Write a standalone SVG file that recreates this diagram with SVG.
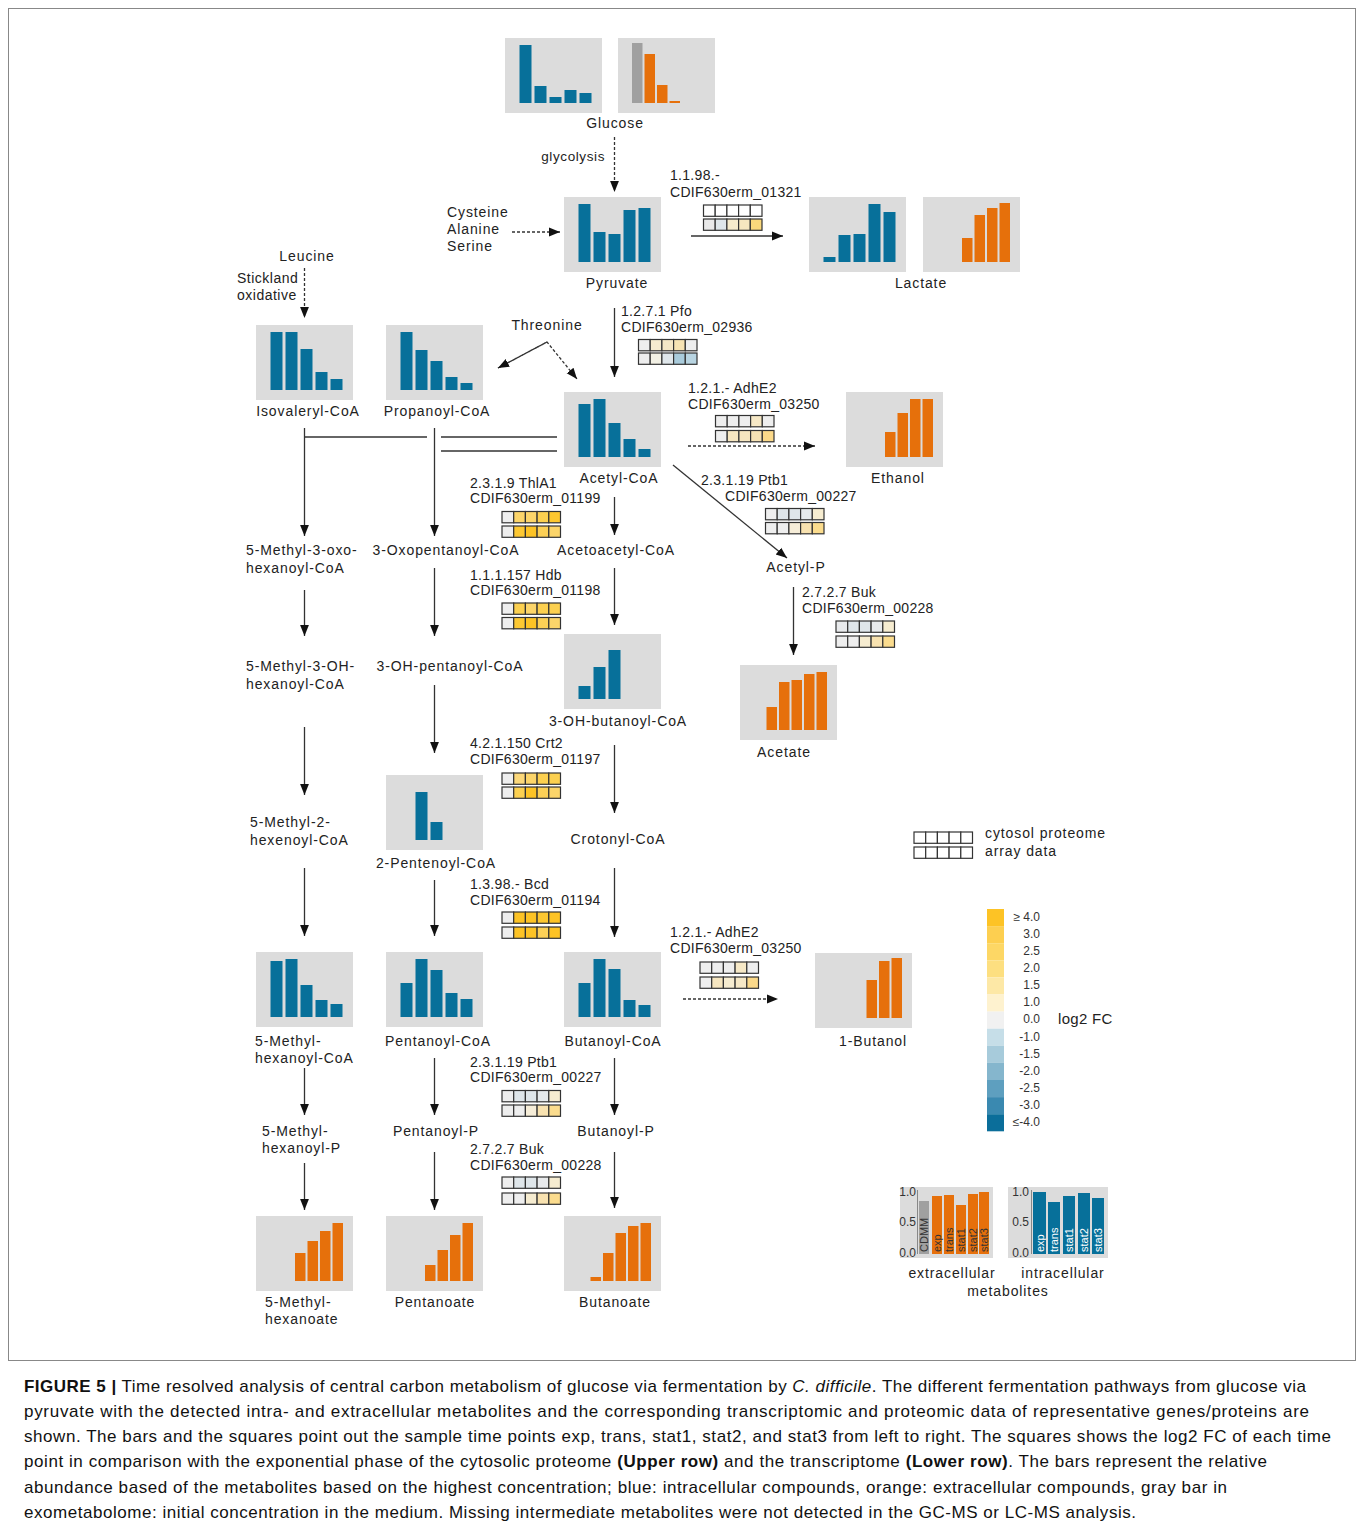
<svg xmlns="http://www.w3.org/2000/svg" width="1360" height="1527" viewBox="0 0 1360 1527">
<style>
.bx{fill:#dcdcdc}
.b{fill:#07709a}
.o{fill:#e6700b}
.g{fill:#a0a0a0}
.t{font-family:"Liberation Sans",Arial,sans-serif;font-size:14px;fill:#222;letter-spacing:0.9px}
g[id^="enz"] text{letter-spacing:0.3px}
.m{text-anchor:middle}
.e{text-anchor:end}
.s{font-family:"Liberation Sans",Arial,sans-serif;font-size:12px;fill:#333;text-anchor:end}
.rt{font-family:"Liberation Sans",Arial,sans-serif;font-size:11px;fill:#333}
.rw{font-family:"Liberation Sans",Arial,sans-serif;font-size:11px;fill:#fff}
.c{stroke:#333;stroke-width:1.3;fill:none}
.d{stroke-dasharray:3 2}
.sq rect{stroke:#333;stroke-width:1.2}
.cap{font-family:"Liberation Sans",Arial,sans-serif;font-size:17px;fill:#111}
</style>
<defs>
<marker id="ah2" viewBox="0 0 10 10" refX="10" refY="5" markerWidth="11" markerHeight="11" markerUnits="userSpaceOnUse" orient="auto"><path d="M0,1 L10,5 L0,9 z" fill="#111"/></marker>
</defs>
<rect x="0" y="0" width="1360" height="1527" fill="#fff"/>
<rect x="8.5" y="8.5" width="1347" height="1352" fill="none" stroke="#888" stroke-width="1"/>

<!-- Connectors -->
<g id="connectors">
<line class="c d" x1="614.5" y1="137" x2="614.5" y2="192" marker-end="url(#ah2)"/>
<line class="c d" x1="512" y1="232" x2="560" y2="232" marker-end="url(#ah2)"/>
<line class="c" x1="691" y1="236" x2="783" y2="236" marker-end="url(#ah2)"/>
<line class="c d" x1="304.5" y1="268" x2="304.5" y2="318" marker-end="url(#ah2)"/>
<polyline class="c d" points="498,368 547,342 577,379" marker-end="url(#ah2)"/>
<line class="c d" x1="547" y1="342" x2="498" y2="368" marker-end="url(#ah2)"/>
<line class="c" x1="614.5" y1="308" x2="614.5" y2="377" marker-end="url(#ah2)"/>
<line class="c d" x1="688" y1="446" x2="815" y2="446" marker-end="url(#ah2)"/>
<line class="c" x1="673" y1="465" x2="787" y2="558" marker-end="url(#ah2)"/>
<line class="c" x1="793.5" y1="587" x2="793.5" y2="655" marker-end="url(#ah2)"/>
<line class="c" x1="614.5" y1="497" x2="614.5" y2="535" marker-end="url(#ah2)"/>
<line class="c" x1="614.5" y1="568" x2="614.5" y2="625" marker-end="url(#ah2)"/>
<line class="c" x1="614.5" y1="745" x2="614.5" y2="813" marker-end="url(#ah2)"/>
<line class="c" x1="614.5" y1="868" x2="614.5" y2="937" marker-end="url(#ah2)"/>
<line class="c d" x1="683" y1="999" x2="778" y2="999" marker-end="url(#ah2)"/>
<line class="c" x1="614.5" y1="1058" x2="614.5" y2="1115" marker-end="url(#ah2)"/>
<line class="c" x1="614.5" y1="1152" x2="614.5" y2="1208" marker-end="url(#ah2)"/>
<polyline class="c" points="557,437 441,437"/>
<polyline class="c" points="557,451 441,451"/>
<polyline class="c" points="427,437 304.5,437"/>
<line class="c" x1="304.5" y1="428" x2="304.5" y2="536" marker-end="url(#ah2)"/>
<line class="c" x1="434.5" y1="428" x2="434.5" y2="536" marker-end="url(#ah2)"/>
<line class="c" x1="304.5" y1="590" x2="304.5" y2="636" marker-end="url(#ah2)"/>
<line class="c" x1="434.5" y1="568" x2="434.5" y2="636" marker-end="url(#ah2)"/>
<line class="c" x1="304.5" y1="727" x2="304.5" y2="795" marker-end="url(#ah2)"/>
<line class="c" x1="434.5" y1="685" x2="434.5" y2="753" marker-end="url(#ah2)"/>
<line class="c" x1="304.5" y1="868" x2="304.5" y2="936" marker-end="url(#ah2)"/>
<line class="c" x1="434.5" y1="880" x2="434.5" y2="936" marker-end="url(#ah2)"/>
<line class="c" x1="304.5" y1="1068" x2="304.5" y2="1115" marker-end="url(#ah2)"/>
<line class="c" x1="434.5" y1="1058" x2="434.5" y2="1115" marker-end="url(#ah2)"/>
<line class="c" x1="304.5" y1="1163" x2="304.5" y2="1210" marker-end="url(#ah2)"/>
<line class="c" x1="434.5" y1="1152" x2="434.5" y2="1210" marker-end="url(#ah2)"/>
</g>

<!-- Nodes -->
<g id="glucose">
<rect class="bx" x="505" y="38" width="97" height="75"/>
<rect class="b" x="519.5" y="45" width="12" height="58"/>
<rect class="b" x="534.5" y="86" width="12" height="17"/>
<rect class="b" x="549.5" y="97" width="12" height="6"/>
<rect class="b" x="564.5" y="90" width="12" height="13"/>
<rect class="b" x="579.5" y="93" width="12" height="10"/>
<rect class="bx" x="618" y="38" width="97" height="75"/>
<rect class="g" x="632" y="43" width="10.5" height="60"/>
<rect class="o" x="644.5" y="54" width="10.5" height="49"/>
<rect class="o" x="657" y="85" width="10.5" height="18"/>
<rect class="o" x="669.5" y="101" width="10.5" height="2"/>
<text class="t m" x="615" y="128">Glucose</text>
</g>
<g id="glycolysis-label"><text class="t e" x="605" y="161" style="font-size:13.5px;letter-spacing:0.6px">glycolysis</text></g>
<g id="aa-pyr"><text class="t" x="447" y="217">Cysteine</text><text class="t" x="447" y="234">Alanine</text><text class="t" x="447" y="251">Serine</text></g>

<g id="pyruvate">
<rect class="bx" x="564" y="197" width="97" height="75"/>
<rect class="b" x="578.5" y="204" width="12" height="58"/>
<rect class="b" x="593.5" y="232" width="12" height="30"/>
<rect class="b" x="608.5" y="234" width="12" height="28"/>
<rect class="b" x="623.5" y="210" width="12" height="52"/>
<rect class="b" x="638.5" y="208" width="12" height="54"/>
<text class="t m" x="617" y="288">Pyruvate</text>
</g>

<g id="enz-01321">
<text class="t" x="670" y="180">1.1.98.-</text>
<text class="t" x="670" y="197">CDIF630erm_01321</text>
<g class="sq">
<rect x="703.5" y="205" width="11.7" height="11.3" fill="#fff"/><rect x="715.2" y="205" width="11.7" height="11.3" fill="#fff"/><rect x="726.9" y="205" width="11.7" height="11.3" fill="#fff"/><rect x="738.6" y="205" width="11.7" height="11.3" fill="#fff"/><rect x="750.3" y="205" width="11.7" height="11.3" fill="#fff"/>
<rect x="703.5" y="219" width="11.7" height="11.3" fill="#e9e9e9"/><rect x="715.2" y="219" width="11.7" height="11.3" fill="#dfe6ea"/><rect x="726.9" y="219" width="11.7" height="11.3" fill="#f6ebcc"/><rect x="738.6" y="219" width="11.7" height="11.3" fill="#f6e6c0"/><rect x="750.3" y="219" width="11.7" height="11.3" fill="#fbd97c"/>
</g>
</g>

<g id="lactate">
<rect class="bx" x="809" y="197" width="97" height="75"/>
<rect class="b" x="823.5" y="257" width="12" height="5"/>
<rect class="b" x="838.5" y="235" width="12" height="27"/>
<rect class="b" x="853.5" y="234" width="12" height="28"/>
<rect class="b" x="868.5" y="204" width="12" height="58"/>
<rect class="b" x="883.5" y="212" width="12" height="50"/>
<rect class="bx" x="923" y="197" width="97" height="75"/>
<rect class="o" x="962" y="238" width="10.5" height="24"/>
<rect class="o" x="974.5" y="215" width="10.5" height="47"/>
<rect class="o" x="987" y="208" width="10.5" height="54"/>
<rect class="o" x="999.5" y="203" width="10.5" height="59"/>
<text class="t m" x="921" y="288">Lactate</text>
</g>

<g id="leucine"><text class="t m" x="307" y="261">Leucine</text><text class="t" x="237" y="283" style="letter-spacing:0.5px">Stickland</text><text class="t" x="237" y="300" style="letter-spacing:0.5px">oxidative</text></g>

<g id="isovaleryl-coa">
<rect class="bx" x="256" y="325" width="97" height="75"/>
<rect class="b" x="270.5" y="332" width="12" height="58"/>
<rect class="b" x="285.5" y="332" width="12" height="58"/>
<rect class="b" x="300.5" y="349" width="12" height="41"/>
<rect class="b" x="315.5" y="372" width="12" height="18"/>
<rect class="b" x="330.5" y="379" width="12" height="11"/>
<text class="t m" x="308" y="416">Isovaleryl-CoA</text>
</g>
<g id="propanoyl-coa">
<rect class="bx" x="386" y="325" width="97" height="75"/>
<rect class="b" x="400.5" y="332" width="12" height="58"/>
<rect class="b" x="415.5" y="350" width="12" height="40"/>
<rect class="b" x="430.5" y="361" width="12" height="29"/>
<rect class="b" x="445.5" y="377" width="12" height="13"/>
<rect class="b" x="460.5" y="383" width="12" height="7"/>
<text class="t m" x="437" y="416">Propanoyl-CoA</text>
</g>
<g id="threonine"><text class="t m" x="547" y="330">Threonine</text></g>

<g id="enz-02936">
<text class="t" x="621" y="316">1.2.7.1 Pfo</text>
<text class="t" x="621" y="332">CDIF630erm_02936</text>
<g class="sq">
<rect x="638.5" y="339.5" width="11.7" height="11.3" fill="#eeeeee"/><rect x="650.2" y="339.5" width="11.7" height="11.3" fill="#f6ebcf"/><rect x="661.9" y="339.5" width="11.7" height="11.3" fill="#f5e7c6"/><rect x="673.6" y="339.5" width="11.7" height="11.3" fill="#f7e3b3"/><rect x="685.3" y="339.5" width="11.7" height="11.3" fill="#eeeeee"/>
<rect x="638.5" y="353" width="11.7" height="11.3" fill="#eeeeee"/><rect x="650.2" y="353" width="11.7" height="11.3" fill="#f2f0e4"/><rect x="661.9" y="353" width="11.7" height="11.3" fill="#dfe6ea"/><rect x="673.6" y="353" width="11.7" height="11.3" fill="#a9cbdb"/><rect x="685.3" y="353" width="11.7" height="11.3" fill="#b8d4e1"/>
</g>
</g>

<g id="acetyl-coa">
<rect class="bx" x="564" y="392" width="97" height="75"/>
<rect class="b" x="578.5" y="404" width="12" height="53"/>
<rect class="b" x="593.5" y="399" width="12" height="58"/>
<rect class="b" x="608.5" y="423" width="12" height="34"/>
<rect class="b" x="623.5" y="439" width="12" height="18"/>
<rect class="b" x="638.5" y="449" width="12" height="8"/>
<text class="t m" x="619" y="483">Acetyl-CoA</text>
</g>

<g id="enz-03250a">
<text class="t" x="688" y="393">1.2.1.- AdhE2</text>
<text class="t" x="688" y="409">CDIF630erm_03250</text>
<g class="sq">
<rect x="715.5" y="415.5" width="11.7" height="11.3" fill="#eeeeee"/><rect x="727.2" y="415.5" width="11.7" height="11.3" fill="#eeeeee"/><rect x="738.9" y="415.5" width="11.7" height="11.3" fill="#eeeeee"/><rect x="750.6" y="415.5" width="11.7" height="11.3" fill="#f6e8c6"/><rect x="762.3" y="415.5" width="11.7" height="11.3" fill="#eeeeee"/>
<rect x="715.5" y="430.5" width="11.7" height="11.3" fill="#eeeeee"/><rect x="727.2" y="430.5" width="11.7" height="11.3" fill="#f6e6c0"/><rect x="738.9" y="430.5" width="11.7" height="11.3" fill="#f6e6c0"/><rect x="750.6" y="430.5" width="11.7" height="11.3" fill="#f6e2b4"/><rect x="762.3" y="430.5" width="11.7" height="11.3" fill="#fbd98a"/>
</g>
</g>

<g id="ethanol">
<rect class="bx" x="846" y="392" width="97" height="75"/>
<rect class="o" x="885" y="432" width="10.5" height="25"/>
<rect class="o" x="897.5" y="413" width="10.5" height="44"/>
<rect class="o" x="910" y="399" width="10.5" height="58"/>
<rect class="o" x="922.5" y="399" width="10.5" height="58"/>
<text class="t m" x="898" y="483">Ethanol</text>
</g>

<g id="enz-00227a">
<text class="t" x="701" y="485">2.3.1.19 Ptb1</text>
<text class="t" x="725" y="501">CDIF630erm_00227</text>
<g class="sq">
<rect x="765.5" y="508.5" width="11.7" height="11.3" fill="#eeeeee"/><rect x="777.2" y="508.5" width="11.7" height="11.3" fill="#dfe6ea"/><rect x="788.9" y="508.5" width="11.7" height="11.3" fill="#dfe6ea"/><rect x="800.6" y="508.5" width="11.7" height="11.3" fill="#e5e9eb"/><rect x="812.3" y="508.5" width="11.7" height="11.3" fill="#f6ecd0"/>
<rect x="765.5" y="522.5" width="11.7" height="11.3" fill="#eeeeee"/><rect x="777.2" y="522.5" width="11.7" height="11.3" fill="#eeeeee"/><rect x="788.9" y="522.5" width="11.7" height="11.3" fill="#f6edd8"/><rect x="800.6" y="522.5" width="11.7" height="11.3" fill="#f8e2b0"/><rect x="812.3" y="522.5" width="11.7" height="11.3" fill="#fbdc8e"/>
</g>
</g>

<g id="acetyl-p"><text class="t m" x="796" y="572">Acetyl-P</text></g>

<g id="enz-00228a">
<text class="t" x="802" y="597">2.7.2.7 Buk</text>
<text class="t" x="802" y="613">CDIF630erm_00228</text>
<g class="sq">
<rect x="836" y="621" width="11.7" height="11.3" fill="#e8eaec"/><rect x="847.7" y="621" width="11.7" height="11.3" fill="#dfe6ea"/><rect x="859.4" y="621" width="11.7" height="11.3" fill="#dfe6ea"/><rect x="871.1" y="621" width="11.7" height="11.3" fill="#e8eaec"/><rect x="882.8" y="621" width="11.7" height="11.3" fill="#f6ecd0"/>
<rect x="836" y="636" width="11.7" height="11.3" fill="#eeeeee"/><rect x="847.7" y="636" width="11.7" height="11.3" fill="#eeeeee"/><rect x="859.4" y="636" width="11.7" height="11.3" fill="#f6ecd0"/><rect x="871.1" y="636" width="11.7" height="11.3" fill="#f8e2b0"/><rect x="882.8" y="636" width="11.7" height="11.3" fill="#fbdc8e"/>
</g>
</g>

<g id="acetate">
<rect class="bx" x="740" y="665" width="97" height="75"/>
<rect class="o" x="766.5" y="707" width="10.5" height="23"/>
<rect class="o" x="779" y="682" width="10.5" height="48"/>
<rect class="o" x="791.5" y="680" width="10.5" height="50"/>
<rect class="o" x="804" y="674" width="10.5" height="56"/>
<rect class="o" x="816.5" y="672" width="10.5" height="58"/>
<text class="t m" x="784" y="757">Acetate</text>
</g>

<g id="enz-01199">
<text class="t" x="470" y="488">2.3.1.9 ThlA1</text>
<text class="t" x="470" y="503">CDIF630erm_01199</text>
<g class="sq">
<rect x="502" y="511.5" width="11.7" height="11.3" fill="#eeeeee"/><rect x="513.7" y="511.5" width="11.7" height="11.3" fill="#fcd56a"/><rect x="525.4" y="511.5" width="11.7" height="11.3" fill="#fcd56a"/><rect x="537.1" y="511.5" width="11.7" height="11.3" fill="#fcd050"/><rect x="548.8" y="511.5" width="11.7" height="11.3" fill="#fdc730"/>
<rect x="502" y="526" width="11.7" height="11.3" fill="#eeeeee"/><rect x="513.7" y="526" width="11.7" height="11.3" fill="#fdc832"/><rect x="525.4" y="526" width="11.7" height="11.3" fill="#fdc325"/><rect x="537.1" y="526" width="11.7" height="11.3" fill="#fcd056"/><rect x="548.8" y="526" width="11.7" height="11.3" fill="#fcd56a"/>
</g>
</g>

<g id="m3oxo"><text class="t" x="246" y="555">5-Methyl-3-oxo-</text><text class="t" x="246" y="573">hexanoyl-CoA</text></g>
<g id="oxopentanoyl"><text class="t m" x="446" y="555">3-Oxopentanoyl-CoA</text></g>
<g id="acetoacetyl"><text class="t m" x="616" y="555">Acetoacetyl-CoA</text></g>

<g id="enz-01198">
<text class="t" x="470" y="580">1.1.1.157 Hdb</text>
<text class="t" x="470" y="595">CDIF630erm_01198</text>
<g class="sq">
<rect x="502" y="603" width="11.7" height="11.3" fill="#eeeeee"/><rect x="513.7" y="603" width="11.7" height="11.3" fill="#fcd050"/><rect x="525.4" y="603" width="11.7" height="11.3" fill="#fcd56a"/><rect x="537.1" y="603" width="11.7" height="11.3" fill="#fcd050"/><rect x="548.8" y="603" width="11.7" height="11.3" fill="#fcd050"/>
<rect x="502" y="617.5" width="11.7" height="11.3" fill="#eeeeee"/><rect x="513.7" y="617.5" width="11.7" height="11.3" fill="#fdc832"/><rect x="525.4" y="617.5" width="11.7" height="11.3" fill="#fdc325"/><rect x="537.1" y="617.5" width="11.7" height="11.3" fill="#fcd056"/><rect x="548.8" y="617.5" width="11.7" height="11.3" fill="#fcd56a"/>
</g>
</g>

<g id="m3oh"><text class="t" x="246" y="671">5-Methyl-3-OH-</text><text class="t" x="246" y="689">hexanoyl-CoA</text></g>
<g id="ohpentanoyl"><text class="t m" x="450" y="671">3-OH-pentanoyl-CoA</text></g>

<g id="ohbutanoyl">
<rect class="bx" x="564" y="634" width="97" height="75"/>
<rect class="b" x="578.5" y="686" width="12" height="13"/>
<rect class="b" x="593.5" y="667" width="12" height="32"/>
<rect class="b" x="608.5" y="650" width="12" height="49"/>
<text class="t m" x="618" y="726">3-OH-butanoyl-CoA</text>
</g>

<g id="enz-01197">
<text class="t" x="470" y="748">4.2.1.150 Crt2</text>
<text class="t" x="470" y="764">CDIF630erm_01197</text>
<g class="sq">
<rect x="502" y="773" width="11.7" height="11.3" fill="#eeeeee"/><rect x="513.7" y="773" width="11.7" height="11.3" fill="#fcd87a"/><rect x="525.4" y="773" width="11.7" height="11.3" fill="#fcd56a"/><rect x="537.1" y="773" width="11.7" height="11.3" fill="#fcd050"/><rect x="548.8" y="773" width="11.7" height="11.3" fill="#fcd050"/>
<rect x="502" y="787" width="11.7" height="11.3" fill="#eeeeee"/><rect x="513.7" y="787" width="11.7" height="11.3" fill="#fcd050"/><rect x="525.4" y="787" width="11.7" height="11.3" fill="#fdc325"/><rect x="537.1" y="787" width="11.7" height="11.3" fill="#fcd056"/><rect x="548.8" y="787" width="11.7" height="11.3" fill="#fcd56a"/>
</g>
</g>

<g id="m2hexenoyl"><text class="t" x="250" y="827">5-Methyl-2-</text><text class="t" x="250" y="845">hexenoyl-CoA</text></g>

<g id="pentenoyl">
<rect class="bx" x="386" y="775" width="97" height="75"/>
<rect class="b" x="415.5" y="792" width="12" height="48"/>
<rect class="b" x="430.5" y="822" width="12" height="18"/>
<text class="t m" x="436" y="868">2-Pentenoyl-CoA</text>
</g>

<g id="crotonyl"><text class="t m" x="618" y="844">Crotonyl-CoA</text></g>

<g id="enz-01194">
<text class="t" x="470" y="889">1.3.98.- Bcd</text>
<text class="t" x="470" y="905">CDIF630erm_01194</text>
<g class="sq">
<rect x="502" y="912" width="11.7" height="11.3" fill="#eeeeee"/><rect x="513.7" y="912" width="11.7" height="11.3" fill="#fdc325"/><rect x="525.4" y="912" width="11.7" height="11.3" fill="#fdc325"/><rect x="537.1" y="912" width="11.7" height="11.3" fill="#fdc730"/><rect x="548.8" y="912" width="11.7" height="11.3" fill="#fdc325"/>
<rect x="502" y="927" width="11.7" height="11.3" fill="#eeeeee"/><rect x="513.7" y="927" width="11.7" height="11.3" fill="#fdc325"/><rect x="525.4" y="927" width="11.7" height="11.3" fill="#fdc325"/><rect x="537.1" y="927" width="11.7" height="11.3" fill="#fcd056"/><rect x="548.8" y="927" width="11.7" height="11.3" fill="#fdc325"/>
</g>
</g>

<g id="enz-03250b">
<text class="t" x="670" y="937">1.2.1.- AdhE2</text>
<text class="t" x="670" y="953">CDIF630erm_03250</text>
<g class="sq">
<rect x="700" y="962" width="11.7" height="11.3" fill="#eeeeee"/><rect x="711.7" y="962" width="11.7" height="11.3" fill="#eeeeee"/><rect x="723.4" y="962" width="11.7" height="11.3" fill="#eeeeee"/><rect x="735.1" y="962" width="11.7" height="11.3" fill="#f6e8c6"/><rect x="746.8" y="962" width="11.7" height="11.3" fill="#eeeeee"/>
<rect x="700" y="977" width="11.7" height="11.3" fill="#eeeeee"/><rect x="711.7" y="977" width="11.7" height="11.3" fill="#f6e6c0"/><rect x="723.4" y="977" width="11.7" height="11.3" fill="#f6ecd0"/><rect x="735.1" y="977" width="11.7" height="11.3" fill="#f6e8c6"/><rect x="746.8" y="977" width="11.7" height="11.3" fill="#fbd98a"/>
</g>
</g>

<g id="mhexanoyl-coa">
<rect class="bx" x="256" y="952" width="97" height="75"/>
<rect class="b" x="270.5" y="961" width="12" height="56"/>
<rect class="b" x="285.5" y="959" width="12" height="58"/>
<rect class="b" x="300.5" y="985" width="12" height="32"/>
<rect class="b" x="315.5" y="1000" width="12" height="17"/>
<rect class="b" x="330.5" y="1004" width="12" height="13"/>
<text class="t" x="255" y="1046">5-Methyl-</text><text class="t" x="255" y="1063">hexanoyl-CoA</text>
</g>
<g id="pentanoyl-coa">
<rect class="bx" x="386" y="952" width="97" height="75"/>
<rect class="b" x="400.5" y="983" width="12" height="34"/>
<rect class="b" x="415.5" y="959" width="12" height="58"/>
<rect class="b" x="430.5" y="970" width="12" height="47"/>
<rect class="b" x="445.5" y="993" width="12" height="24"/>
<rect class="b" x="460.5" y="999" width="12" height="18"/>
<text class="t m" x="438" y="1046">Pentanoyl-CoA</text>
</g>
<g id="butanoyl-coa">
<rect class="bx" x="564" y="952" width="97" height="75"/>
<rect class="b" x="578.5" y="983" width="12" height="34"/>
<rect class="b" x="593.5" y="959" width="12" height="58"/>
<rect class="b" x="608.5" y="969" width="12" height="48"/>
<rect class="b" x="623.5" y="1000" width="12" height="17"/>
<rect class="b" x="638.5" y="1005" width="12" height="12"/>
<text class="t m" x="613" y="1046">Butanoyl-CoA</text>
</g>
<g id="butanol">
<rect class="bx" x="815" y="953" width="97" height="75"/>
<rect class="o" x="866.5" y="980" width="10.5" height="38"/>
<rect class="o" x="879" y="961" width="10.5" height="57"/>
<rect class="o" x="891.5" y="958" width="10.5" height="60"/>
<text class="t m" x="873" y="1046">1-Butanol</text>
</g>

<g id="enz-00227b">
<text class="t" x="470" y="1067">2.3.1.19 Ptb1</text>
<text class="t" x="470" y="1082">CDIF630erm_00227</text>
<g class="sq">
<rect x="502" y="1090.5" width="11.7" height="11.3" fill="#eeeeee"/><rect x="513.7" y="1090.5" width="11.7" height="11.3" fill="#dfe6ea"/><rect x="525.4" y="1090.5" width="11.7" height="11.3" fill="#dfe6ea"/><rect x="537.1" y="1090.5" width="11.7" height="11.3" fill="#e5e9eb"/><rect x="548.8" y="1090.5" width="11.7" height="11.3" fill="#f6ecd0"/>
<rect x="502" y="1105" width="11.7" height="11.3" fill="#eeeeee"/><rect x="513.7" y="1105" width="11.7" height="11.3" fill="#eeeeee"/><rect x="525.4" y="1105" width="11.7" height="11.3" fill="#f6edd8"/><rect x="537.1" y="1105" width="11.7" height="11.3" fill="#f8e2b0"/><rect x="548.8" y="1105" width="11.7" height="11.3" fill="#fbdc8e"/>
</g>
</g>

<g id="mhexanoyl-p"><text class="t" x="262" y="1136">5-Methyl-</text><text class="t" x="262" y="1153">hexanoyl-P</text></g>
<g id="pentanoyl-p"><text class="t m" x="436" y="1136">Pentanoyl-P</text></g>
<g id="butanoyl-p"><text class="t m" x="616" y="1136">Butanoyl-P</text></g>

<g id="enz-00228b">
<text class="t" x="470" y="1154">2.7.2.7 Buk</text>
<text class="t" x="470" y="1170">CDIF630erm_00228</text>
<g class="sq">
<rect x="502" y="1177" width="11.7" height="11.3" fill="#eeeeee"/><rect x="513.7" y="1177" width="11.7" height="11.3" fill="#dfe6ea"/><rect x="525.4" y="1177" width="11.7" height="11.3" fill="#dfe6ea"/><rect x="537.1" y="1177" width="11.7" height="11.3" fill="#e8eaec"/><rect x="548.8" y="1177" width="11.7" height="11.3" fill="#f6ecd0"/>
<rect x="502" y="1193" width="11.7" height="11.3" fill="#eeeeee"/><rect x="513.7" y="1193" width="11.7" height="11.3" fill="#eeeeee"/><rect x="525.4" y="1193" width="11.7" height="11.3" fill="#f6ecd0"/><rect x="537.1" y="1193" width="11.7" height="11.3" fill="#f8e2b0"/><rect x="548.8" y="1193" width="11.7" height="11.3" fill="#fbdc8e"/>
</g>
</g>

<g id="mhexanoate">
<rect class="bx" x="256" y="1216" width="97" height="75"/>
<rect class="o" x="295" y="1253" width="10.5" height="28"/>
<rect class="o" x="307.5" y="1241" width="10.5" height="40"/>
<rect class="o" x="320" y="1231" width="10.5" height="50"/>
<rect class="o" x="332.5" y="1223" width="10.5" height="58"/>
<text class="t" x="265" y="1307">5-Methyl-</text><text class="t" x="265" y="1324">hexanoate</text>
</g>
<g id="pentanoate">
<rect class="bx" x="386" y="1216" width="97" height="75"/>
<rect class="o" x="425" y="1265" width="10.5" height="16"/>
<rect class="o" x="437.5" y="1250" width="10.5" height="31"/>
<rect class="o" x="450" y="1235" width="10.5" height="46"/>
<rect class="o" x="462.5" y="1223" width="10.5" height="58"/>
<text class="t m" x="435" y="1307">Pentanoate</text>
</g>
<g id="butanoate">
<rect class="bx" x="564" y="1216" width="97" height="75"/>
<rect class="o" x="590.5" y="1277" width="10.5" height="4"/>
<rect class="o" x="603" y="1253" width="10.5" height="28"/>
<rect class="o" x="615.5" y="1233" width="10.5" height="48"/>
<rect class="o" x="628" y="1226" width="10.5" height="55"/>
<rect class="o" x="640.5" y="1223" width="10.5" height="58"/>
<text class="t m" x="615" y="1307">Butanoate</text>
</g>

<!-- Legend -->
<g id="legend-squares">
<g class="sq">
<rect x="914" y="832" width="11.7" height="11.3" fill="#fff"/><rect x="925.7" y="832" width="11.7" height="11.3" fill="#fff"/><rect x="937.4" y="832" width="11.7" height="11.3" fill="#fff"/><rect x="949.1" y="832" width="11.7" height="11.3" fill="#fff"/><rect x="960.8" y="832" width="11.7" height="11.3" fill="#fff"/>
<rect x="914" y="847" width="11.7" height="11.3" fill="#fff"/><rect x="925.7" y="847" width="11.7" height="11.3" fill="#fff"/><rect x="937.4" y="847" width="11.7" height="11.3" fill="#fff"/><rect x="949.1" y="847" width="11.7" height="11.3" fill="#fff"/><rect x="960.8" y="847" width="11.7" height="11.3" fill="#fff"/>
</g>
<text class="t" x="985" y="838">cytosol proteome</text>
<text class="t" x="985" y="856">array data</text>
</g>

<g id="legend-scale">
<rect x="987" y="909" width="17" height="17.1" fill="#fdc325"/>
<rect x="987" y="926.1" width="17" height="17.1" fill="#fdcf50"/>
<rect x="987" y="943.2" width="17" height="17.1" fill="#fdd765"/>
<rect x="987" y="960.3" width="17" height="17.1" fill="#fddf80"/>
<rect x="987" y="977.4" width="17" height="17.1" fill="#fde8a6"/>
<rect x="987" y="994.5" width="17" height="17.1" fill="#fef2cf"/>
<rect x="987" y="1011.6" width="17" height="17.1" fill="#f1f1f1"/>
<rect x="987" y="1028.7" width="17" height="17.1" fill="#c6dee8"/>
<rect x="987" y="1045.8" width="17" height="17.1" fill="#a7cbdb"/>
<rect x="987" y="1062.9" width="17" height="17.1" fill="#85b6cd"/>
<rect x="987" y="1080" width="17" height="17.1" fill="#5e9fbf"/>
<rect x="987" y="1097.1" width="17" height="17.1" fill="#3a89b0"/>
<rect x="987" y="1114.2" width="17" height="17.1" fill="#0b6e9a"/>
<text class="s" x="1040" y="921">≥ 4.0</text>
<text class="s" x="1040" y="938">3.0</text>
<text class="s" x="1040" y="955">2.5</text>
<text class="s" x="1040" y="972">2.0</text>
<text class="s" x="1040" y="989">1.5</text>
<text class="s" x="1040" y="1006">1.0</text>
<text class="s" x="1040" y="1023">0.0</text>
<text class="s" x="1040" y="1041">-1.0</text>
<text class="s" x="1040" y="1058">-1.5</text>
<text class="s" x="1040" y="1075">-2.0</text>
<text class="s" x="1040" y="1092">-2.5</text>
<text class="s" x="1040" y="1109">-3.0</text>
<text class="s" x="1040" y="1126">≤-4.0</text>
<text class="t" x="1058" y="1024" style="font-size:15px;letter-spacing:0.3px">log2 FC</text>
</g>

<g id="legend-extracellular">
<rect class="bx" x="900" y="1187" width="93" height="71"/>
<line x1="917.5" y1="1190" x2="917.5" y2="1254" stroke="#888" stroke-width="1"/>
<rect class="g" x="919" y="1201" width="10" height="53"/>
<rect class="o" x="932" y="1196" width="10" height="58"/>
<rect class="o" x="944" y="1195" width="10" height="59"/>
<rect class="o" x="956" y="1205" width="10" height="49"/>
<rect class="o" x="968" y="1194" width="10" height="60"/>
<rect class="o" x="979" y="1192" width="10" height="62"/>
<text class="rt" transform="translate(928,1252) rotate(-90)">CDMM</text>
<text class="rt" transform="translate(941,1252) rotate(-90)">exp</text>
<text class="rt" transform="translate(953,1252) rotate(-90)">trans</text>
<text class="rt" transform="translate(965,1252) rotate(-90)">stat1</text>
<text class="rt" transform="translate(977,1252) rotate(-90)">stat2</text>
<text class="rt" transform="translate(988,1252) rotate(-90)">stat3</text>
<text class="s" x="916" y="1196">1.0</text>
<text class="s" x="916" y="1226">0.5</text>
<text class="s" x="916" y="1257">0.0</text>
<text class="t m" x="952" y="1278">extracellular</text>
</g>
<g id="legend-intracellular">
<rect class="bx" x="1008" y="1187" width="100" height="71"/>
<line x1="1031.5" y1="1190" x2="1031.5" y2="1254" stroke="#888" stroke-width="1"/>
<rect class="b" x="1033" y="1192" width="13" height="62"/>
<rect class="b" x="1048" y="1202" width="12" height="52"/>
<rect class="b" x="1063" y="1196" width="12" height="58"/>
<rect class="b" x="1078" y="1193" width="12" height="61"/>
<rect class="b" x="1092" y="1198" width="12" height="56"/>
<text class="rw" transform="translate(1044,1252) rotate(-90)">exp</text>
<text class="rw" transform="translate(1058,1252) rotate(-90)">trans</text>
<text class="rw" transform="translate(1073,1252) rotate(-90)">stat1</text>
<text class="rw" transform="translate(1088,1252) rotate(-90)">stat2</text>
<text class="rw" transform="translate(1102,1252) rotate(-90)">stat3</text>
<text class="s" x="1029" y="1196">1.0</text>
<text class="s" x="1029" y="1226">0.5</text>
<text class="s" x="1029" y="1257">0.0</text>
<text class="t m" x="1063" y="1278">intracellular</text>
<text class="t m" x="1008" y="1296">metabolites</text>
</g>

<!-- Caption -->
<g id="caption">
<text class="cap" x="24" y="1392" textLength="1282" lengthAdjust="spacing"><tspan font-weight="bold">FIGURE 5 |</tspan> Time resolved analysis of central carbon metabolism of glucose via fermentation by <tspan font-style="italic">C. difficile</tspan>. The different fermentation pathways from glucose via</text>
<text class="cap" x="24" y="1417" textLength="1285" lengthAdjust="spacing">pyruvate with the detected intra- and extracellular metabolites and the corresponding transcriptomic and proteomic data of representative genes/proteins are</text>
<text class="cap" x="24" y="1442" textLength="1307" lengthAdjust="spacing">shown. The bars and the squares point out the sample time points exp, trans, stat1, stat2, and stat3 from left to right. The squares shows the log2 FC of each time</text>
<text class="cap" x="24" y="1467" textLength="1243" lengthAdjust="spacing">point in comparison with the exponential phase of the cytosolic proteome <tspan font-weight="bold">(Upper row)</tspan> and the transcriptome <tspan font-weight="bold">(Lower row)</tspan>. The bars represent the relative</text>
<text class="cap" x="24" y="1493" textLength="1203" lengthAdjust="spacing">abundance based of the metabolites based on the highest concentration; blue: intracellular compounds, orange: extracellular compounds, gray bar in</text>
<text class="cap" x="24" y="1518" textLength="1112" lengthAdjust="spacing">exometabolome: initial concentration in the medium. Missing intermediate metabolites were not detected in the GC-MS or LC-MS analysis.</text>
</g>
</svg>
